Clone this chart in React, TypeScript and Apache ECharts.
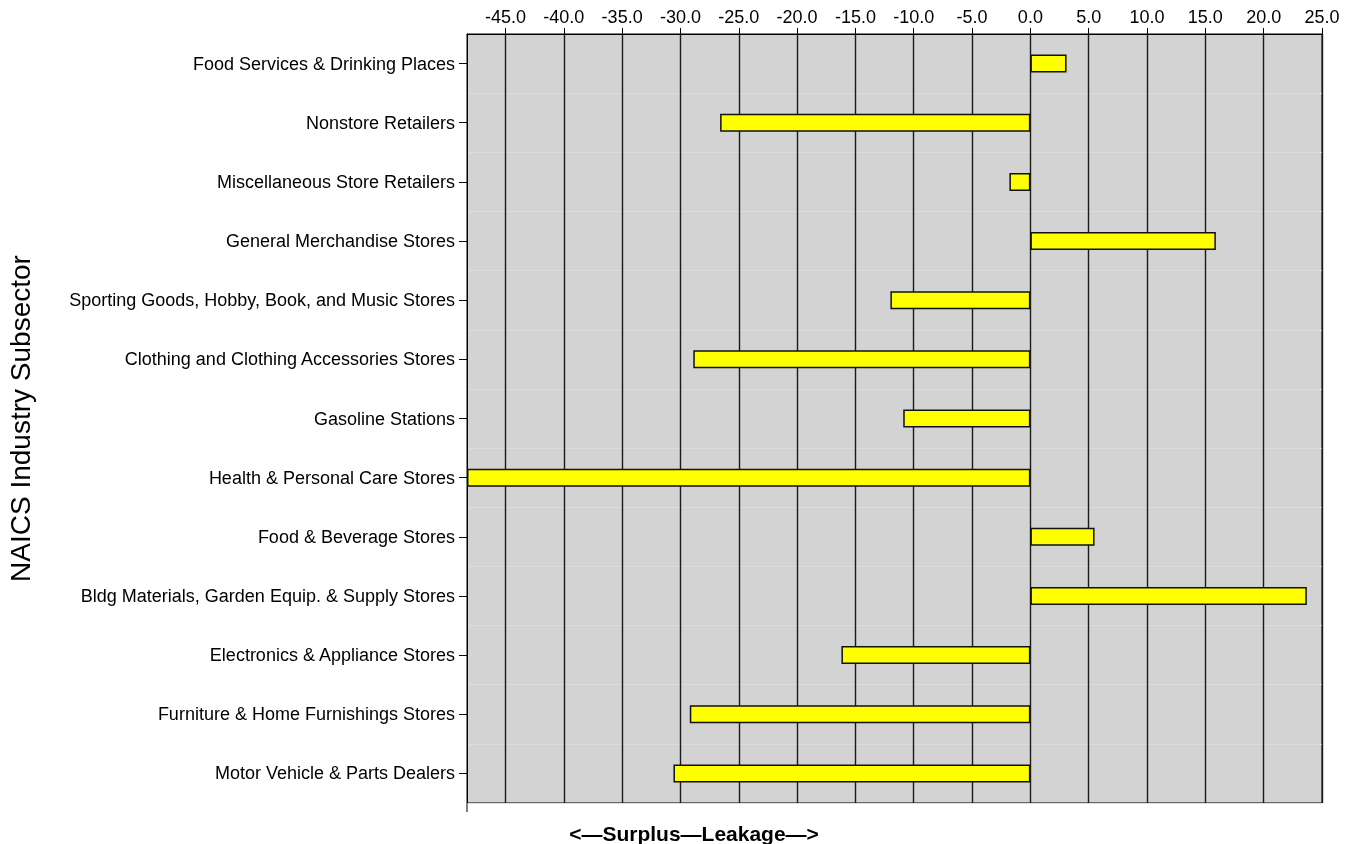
import React, { useEffect, useRef } from "react";
import * as echarts from "echarts";

const categories = [
  "Food Services & Drinking Places",
  "Nonstore Retailers",
  "Miscellaneous Store Retailers",
  "General Merchandise Stores",
  "Sporting Goods, Hobby, Book, and Music Stores",
  "Clothing and Clothing Accessories Stores",
  "Gasoline Stations",
  "Health & Personal Care Stores",
  "Food & Beverage Stores",
  "Bldg Materials, Garden Equip. & Supply Stores",
  "Electronics & Appliance Stores",
  "Furniture & Home Furnishings Stores",
  "Motor Vehicle & Parts Dealers",
];

const values = [3.1, -26.6, -1.8, 15.9, -12.0, -28.9, -10.9, -48.3, 5.5, 23.7, -16.2, -29.2, -30.6];

const xTicks = [-45, -40, -35, -30, -25, -20, -15, -10, -5, 0, 5, 10, 15, 20, 25];

const FONT = "'Liberation Sans', Arial, Helvetica, sans-serif";

export default function App() {
  const ref = useRef<HTMLDivElement>(null);
  useEffect(() => {
    if (!ref.current) return;
    const chart = echarts.init(ref.current, null, { renderer: "svg" });
    chart.setOption({
      animation: false,
      textStyle: { fontFamily: FONT },
      grid: {
        left: 467,
        right: 32,
        top: 34,
        bottom: 41,
        show: true,
        backgroundColor: "#d3d3d3",
        borderColor: "#000",
        borderWidth: 1,
        containLabel: false,
        outerBoundsMode: "none",
      },
      xAxis: {
        type: "value",
        position: "top",
        min: -48.3,
        max: 25,
        axisLine: { show: true, lineStyle: { color: "#000", width: 1 } },
        axisTick: {
          show: true,
          customValues: xTicks,
          length: 6,
          lineStyle: { color: "#000" },
        },
        axisLabel: {
          customValues: xTicks,
          formatter: (v: number) => v.toFixed(1),
          fontSize: 18,
          color: "#000",
          margin: 8,
          fontFamily: FONT,
        },
        splitLine: { show: true, lineStyle: { color: "#1a1a1a", width: 1.4 } },
      },
      yAxis: {
        type: "category",
        inverse: true,
        data: categories,
        name: "NAICS Industry Subsector",
        nameLocation: "middle",
        nameRotate: 90,
        nameGap: 433,
        nameTextStyle: { fontSize: 28, color: "#000", fontFamily: FONT },
        axisLine: { show: true, onZero: false, lineStyle: { color: "#000", width: 1 } },
        axisTick: { show: true, alignWithLabel: true, length: 8, lineStyle: { color: "#000" } },
        axisLabel: { fontSize: 18, color: "#000", margin: 12, fontFamily: FONT },
        splitLine: { show: true, lineStyle: { color: "#dcdcdc", width: 1 } },
      },
      series: [
        {
          type: "bar",
          data: values,
          barWidth: 18,
          itemStyle: { color: "#ffff00", borderColor: "#111", borderWidth: 1.5 },
        },
      ],
      graphic: [
        {
          type: "line",
          shape: { x1: 467, y1: 803, x2: 467, y2: 812 },
          style: { stroke: "#000", lineWidth: 1 },
        },
        {
          type: "text",
          x: 694,
          y: 833,
          style: {
            text: "<\u2014Surplus\u2014Leakage\u2014>",
            fontSize: 21,
            fontWeight: "bold",
            fill: "#000",
            fontFamily: FONT,
            align: "center",
            verticalAlign: "middle",
          },
        },
      ],
    });
    return () => chart.dispose();
  }, []);
  return (
    <div
      ref={ref}
      style={{ position: "fixed", left: 0, top: 0, width: 1354, height: 844 }}
    />
  );
}
